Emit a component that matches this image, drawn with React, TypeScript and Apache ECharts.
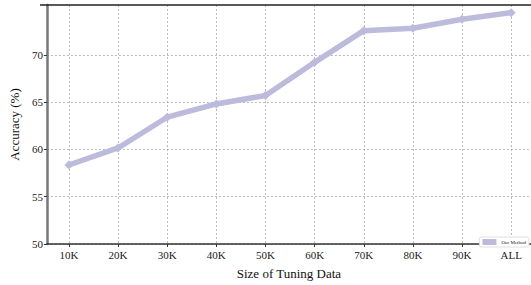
import React, { useEffect, useRef } from "react";
import * as echarts from "echarts";

const categories = ["10K", "20K", "30K", "40K", "50K", "60K", "70K", "80K", "90K", "ALL"];
const accuracy = [58.35, 60.15, 63.4, 64.8, 65.7, 69.2, 72.55, 72.8, 73.75, 74.45];
const yTicks = [50, 55, 60, 65, 70];
const seriesName = "Our Method";

export default function App() {
  const ref = useRef<HTMLDivElement>(null);
  useEffect(() => {
    if (!ref.current) return;
    const chart = echarts.init(ref.current, undefined, { renderer: "svg" });
    const font = "Liberation Serif";
    const xPositions = categories.map((_, i) => i);
    chart.setOption({
      animation: false,
      backgroundColor: "#ffffff",
      grid: { left: 40, right: 0, top: 5, bottom: 36, containLabel: false },
      legend: {
        right: 2,
        bottom: 38,
        orient: "vertical",
        itemWidth: 14,
        itemHeight: 6,
        itemGap: 2,
        padding: [2, 3, 2, 3],
        borderColor: "#d8d8d8",
        borderWidth: 0.8,
        borderRadius: 2,
        backgroundColor: "#ffffff",
        textStyle: { fontFamily: font, fontSize: 5, color: "#222" },
        data: [{ name: seriesName, icon: "rect" }],
      },
      xAxis: {
        type: "value",
        min: -0.447,
        max: 9.403,
        splitNumber: 10,
        minInterval: 1,
        maxInterval: 1,
        name: "Size of Tuning Data",
        nameLocation: "middle",
        nameGap: 23,
        nameTextStyle: { fontFamily: font, fontSize: 13, color: "#111" },
        axisLine: { show: true, onZero: false, lineStyle: { color: "#333", width: 1.5 } },
        axisTick: { show: true, length: 3, customValues: xPositions, lineStyle: { color: "#333" } },
        axisLabel: {
          fontFamily: font,
          fontSize: 11,
          color: "#222",
          margin: 5,
          customValues: xPositions,
          formatter: (v: number) => {
            const i = Math.round(v);
            return Math.abs(v - i) < 1e-6 && i >= 0 && i < categories.length ? categories[i] : "";
          },
        },
        splitLine: { show: true, lineStyle: { color: "#a8a8a8", type: [2, 2], width: 0.8 } },
      },
      yAxis: {
        type: "value",
        min: 50,
        max: 75.26,
        interval: 5,
        name: "Accuracy (%)",
        nameLocation: "middle",
        nameGap: 24,
        nameRotate: 90,
        nameTextStyle: { fontFamily: font, fontSize: 13, color: "#111" },
        axisLine: { show: true, onZero: false, lineStyle: { color: "#777", width: 2.5 } },
        axisTick: { show: true, length: 3, customValues: yTicks, lineStyle: { color: "#333" } },
        axisLabel: {
          fontFamily: font,
          fontSize: 11,
          color: "#222",
          margin: 4,
          customValues: yTicks,
          formatter: (v: number) => String(v),
        },
        splitLine: { show: true, lineStyle: { color: "#a8a8a8", type: [2, 2], width: 0.8 } },
      },
      graphic: [
        {
          type: "line",
          shape: { x1: 40, y1: 5, x2: 531, y2: 5 },
          style: { stroke: "#222", lineWidth: 1.5 },
          z: 10,
        },
      ],
      series: [
        {
          name: seriesName,
          type: "line",
          data: accuracy.map((v, i) => [i, v]),
          color: "#bdbbdc",
          lineStyle: { width: 5.5, color: "#bdbbdc" },
          symbol: "diamond",
          symbolSize: 9,
          showSymbol: true,
          itemStyle: { color: "#bdbbdc" },
        },
      ],
    });
    return () => chart.dispose();
  }, []);
  return <div ref={ref} style={{ width: 531, height: 285, position: "absolute", left: 0, top: 0 }} />;
}
